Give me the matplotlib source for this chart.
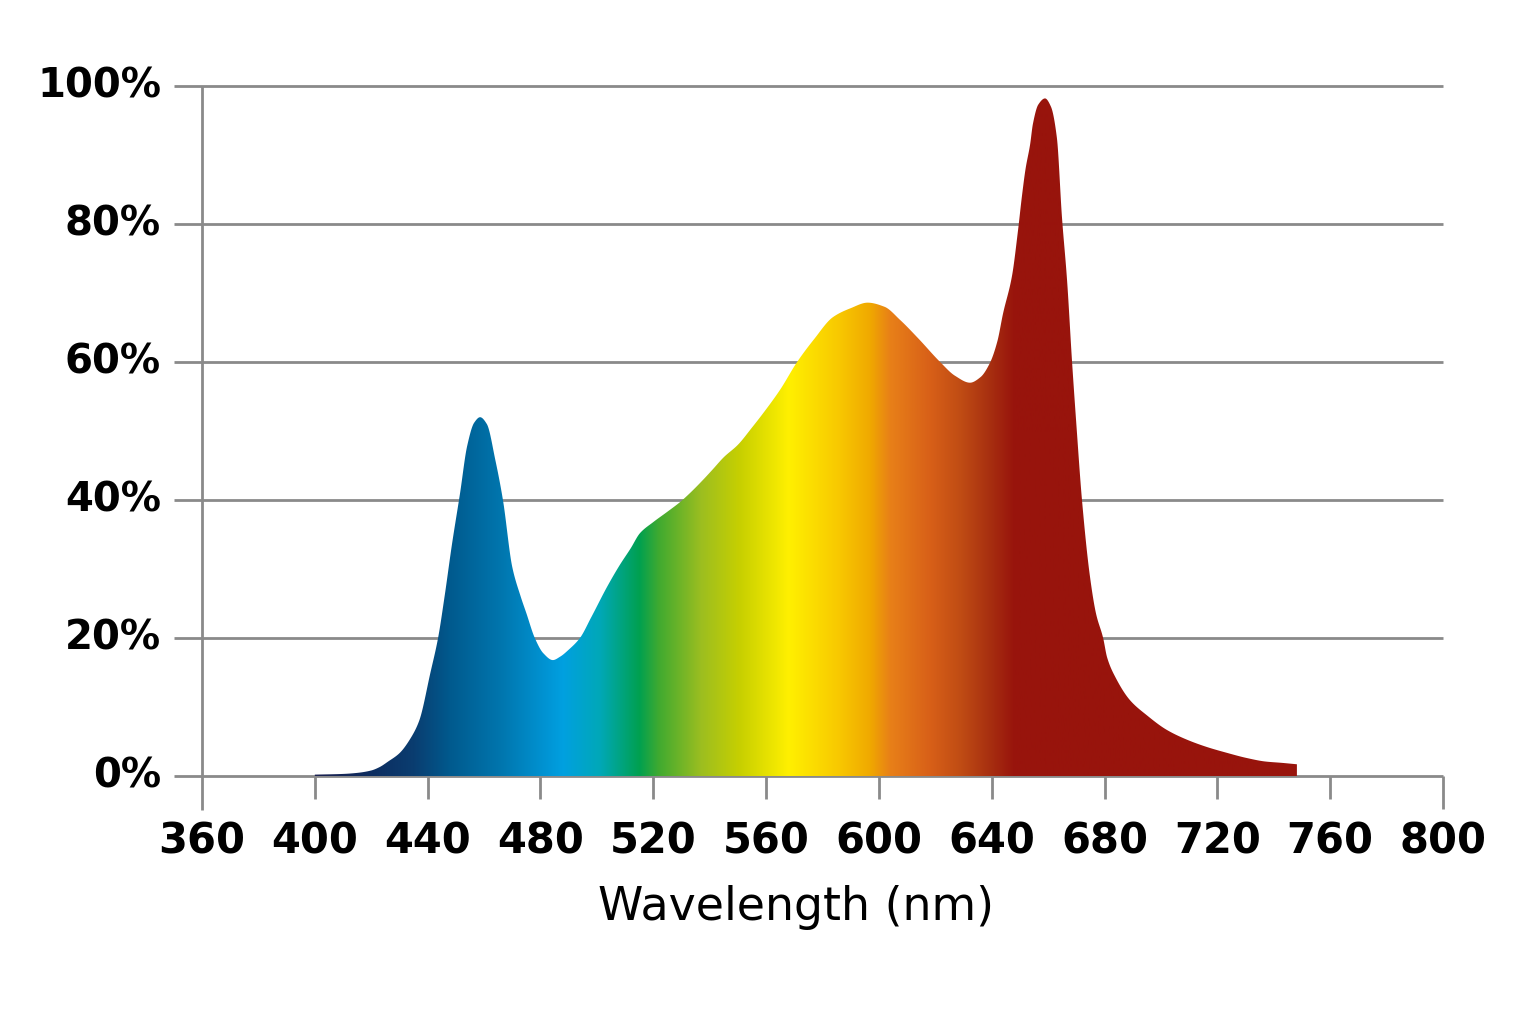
import numpy as np
import matplotlib
matplotlib.use("Agg")
import matplotlib.pyplot as plt
from matplotlib.transforms import blended_transform_factory

# ---- data ----
wavelength = [400, 410, 415, 420, 423, 426, 430, 434, 437, 441, 443.7, 446, 448.6,
              451.5, 454, 456.5, 458.6, 461, 464, 466.7, 470, 473, 475, 478, 481,
              484.4, 487, 490, 494, 498, 503.6, 508, 512, 515.3, 520, 525, 529.5,
              533, 537.6, 541, 545, 550, 555, 559, 565, 571, 577, 583.7, 590, 596,
              602, 607.5, 614, 621.7, 627, 632.3, 636, 639.4, 642, 644, 647.2,
              649.3, 650.7, 652, 653.6, 654.6, 656.5, 658.9, 661, 663.1, 664.9,
              666.7, 668.5, 670, 672, 674.8, 677, 679.5, 680.9, 684, 689, 695, 702,
              709, 716.3, 723, 730.5, 737, 743, 748.2]
intensity = [0.2, 0.3, 0.45, 0.8, 1.3, 2.1, 3.3, 5.5, 8.0, 15.0, 20.0, 26.0, 33.5,
             41.0, 47.8, 51.2, 52.0, 51.0, 45.8, 40.0, 30.3, 26.0, 23.6, 20.0, 17.8,
             16.8, 17.3, 18.3, 20.0, 23.0, 27.4, 30.5, 33.0, 35.2, 36.8, 38.3, 39.7,
             41.0, 42.9, 44.4, 46.2, 48.0, 50.5, 52.6, 56.0, 60.0, 63.3, 66.5, 67.8,
             68.6, 68.0, 66.1, 63.4, 60.0, 58.0, 57.0, 57.8, 59.9, 63.0, 67.0, 72.5,
             79.0, 84.0, 88.0, 91.5, 94.5, 97.3, 98.2, 97.0, 92.5, 81.0, 71.9, 59.9,
             51.0, 40.0, 29.0, 23.5, 20.0, 17.2, 14.2, 11.0, 8.8, 6.7, 5.3, 4.2, 3.4,
             2.6, 2.1, 1.9, 1.7]
x_ticks = [360, 400, 440, 480, 520, 560, 600, 640, 680, 720, 760, 800]
y_ticks = [0, 20, 40, 60, 80, 100]
y_tick_labels = ["0%", "20%", "40%", "60%", "80%", "100%"]
x_label = "Wavelength (nm)"

# ---- spectrum colour stops (style) ----
stop_nm = [400, 420, 435, 448, 466, 483, 488, 501, 515, 522, 537, 551, 568, 586,
           597, 604, 618, 629, 639, 648, 760]
stop_col = ["#1c2150", "#0d2d60", "#0a3d70", "#005a8e", "#0076ae", "#0096d6",
            "#00a0e0", "#00a8b8", "#00a050", "#40aa30", "#9cbe20", "#c8d000",
            "#fff000", "#f8c800", "#f0a800", "#e88018", "#d86018", "#c04c14",
            "#a83010", "#98140c", "#98140c"]


def pchip(x, y, xn):
    """Shape-preserving cubic curve through the data points (for smooth drawing)."""
    x = np.asarray(x, float); y = np.asarray(y, float)
    h = np.diff(x); d = np.diff(y) / h
    m = np.zeros_like(y)
    for k in range(1, len(x) - 1):
        if d[k - 1] * d[k] > 0:
            w1 = 2 * h[k] + h[k - 1]; w2 = h[k] + 2 * h[k - 1]
            m[k] = (w1 + w2) / (w1 / d[k - 1] + w2 / d[k])
    m[0] = d[0]; m[-1] = d[-1]
    idx = np.clip(np.searchsorted(x, xn) - 1, 0, len(x) - 2)
    t = (xn - x[idx]) / h[idx]
    h00 = 2 * t**3 - 3 * t**2 + 1; h10 = t**3 - 2 * t**2 + t
    h01 = -2 * t**3 + 3 * t**2; h11 = t**3 - t**2
    return h00 * y[idx] + h10 * h[idx] * m[idx] + h01 * y[idx + 1] + h11 * h[idx] * m[idx + 1]


fig = plt.figure(figsize=(15.36, 10.24), dpi=100)
ax = fig.add_axes([202/1536, 1-776/1024, 1241/1536, 690/1024])
ax.set_xlim(360, 800)
ax.set_ylim(0, 100)
ax.axis("off")

grey = "#8a8a8a"
lw = 2.0
bt_y = blended_transform_factory(ax.transAxes, ax.transData)
bt_x = blended_transform_factory(ax.transData, ax.transAxes)

# horizontal grid lines
for yv in y_ticks:
    ax.plot([-28/1241, 1.0], [yv, yv], transform=bt_y, color=grey, lw=lw,
            clip_on=False, zorder=1, solid_capstyle="butt")

# vertical axis line and ticks
for xv in x_ticks:
    if xv == 360:
        y0, y1 = -34/690, 1.0
    elif xv == 800:
        y0, y1 = -33/690, 0.0
    else:
        y0, y1 = -23/690, 0.0
    ax.plot([xv, xv], [y0, y1], transform=bt_x, color=grey, lw=lw,
            clip_on=False, zorder=1, solid_capstyle="butt")

# filled spectrum with gradient
xs = np.linspace(wavelength[0], wavelength[-1], 3000)
ys = pchip(wavelength, intensity, xs)
poly = ax.fill_between(xs, ys, 0, facecolor="none", edgecolor="none", zorder=2)
grid_nm = np.linspace(398, 752, 1200)
rgb = np.array([matplotlib.colors.to_rgb(c) for c in stop_col])
img = np.stack([np.interp(grid_nm, stop_nm, rgb[:, k]) for k in range(3)], axis=-1)
img = img[np.newaxis, :, :]
im = ax.imshow(img, extent=[398, 752, 0, 100], aspect="auto", origin="lower",
               interpolation="bilinear", zorder=3)
im.set_clip_path(poly.get_paths()[0], transform=ax.transData)
ax.set_xlim(360, 800)
ax.set_ylim(0, 100)

# tick labels
for xv in x_ticks:
    ax.text(xv, -65/690, str(xv), transform=bt_x, ha="center", va="center",
            fontsize=30, fontweight="bold", color="black")
for yv, lab in zip(y_ticks, y_tick_labels):
    ax.text(-41/1241, yv, lab, transform=bt_y, ha="right", va="center",
            fontsize=29, fontweight="bold", color="black")

ax.text(570.5, -132/690, x_label, transform=bt_x, ha="center", va="center",
        fontsize=33, color="black")

fig.savefig("out.png", dpi=100, facecolor="white")
